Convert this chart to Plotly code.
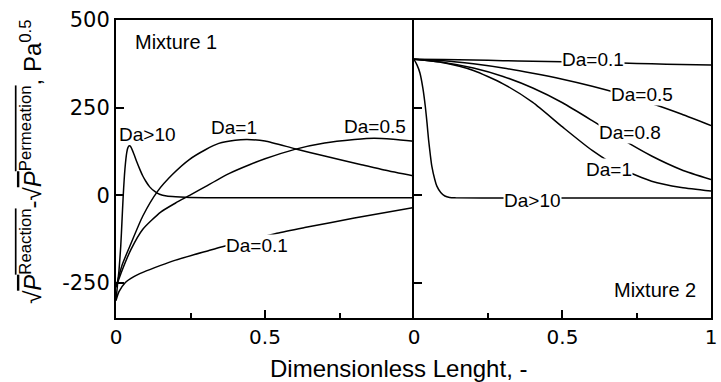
import plotly.graph_objects as go

# ---- Mixture 1: profiles along the dimensionless length ----
m1_x_da10 = [0, 0.005, 0.01, 0.016, 0.02, 0.024, 0.03, 0.036, 0.04, 0.045, 0.05, 0.06,
             0.07, 0.08, 0.09, 0.1, 0.113, 0.13, 0.146, 0.17, 0.2, 0.3, 0.5, 1.0]
m1_y_da10 = [-300, -255, -215, -144, -75, -5, 75, 122, 136, 141, 138, 118,
             95, 74, 55, 40, 24, 11, 3, -2, -4, -7, -7, -7]

m1_x_da1 = [0, 0.02, 0.047, 0.09, 0.14, 0.19, 0.246, 0.3, 0.345, 0.4, 0.44, 0.5,
            0.6, 0.7, 0.82, 0.9, 1.0]
m1_y_da1 = [-262, -200, -144, -59, 12, 60, 102, 130, 148, 157, 159, 155,
            133, 112, 88, 72, 55]

m1_x_da05 = [0, 0.02, 0.05, 0.09, 0.15, 0.2, 0.25, 0.3, 0.379, 0.45, 0.5, 0.6,
             0.7, 0.8, 0.866, 0.93, 1.0]
m1_y_da05 = [-262, -215, -155, -97, -48, -22, 1, 25, 62, 88, 104, 131,
             149, 159, 163, 160, 154]

m1_x_da01 = [0, 0.01, 0.03, 0.06, 0.09, 0.15, 0.2, 0.31, 0.36, 0.45, 0.54, 0.633, 0.8, 1.0]
m1_y_da01 = [-300, -275, -250, -232, -220, -200, -185, -158, -146, -127, -108, -92, -65, -35]

# ---- Mixture 2 ----
m2_x = [0, 0.1, 0.2, 0.3, 0.4, 0.5, 0.6, 0.7, 0.8, 0.9, 1.0]
m2_y_da01 = [388, 387, 386, 384, 382, 381, 379, 377, 375, 373, 372]
m2_y_da05 = [388, 384, 375, 363, 348, 331, 311, 288, 262, 232, 199]
m2_y_da08 = [388, 379, 363, 339, 306, 264, 213, 160, 112, 73, 45]
m2_y_da1 = [388, 378, 356, 318, 265, 195, 128, 75, 40, 22, 12]

m2_x_da10 = [0, 0.01, 0.02, 0.03, 0.038, 0.044, 0.049, 0.055, 0.06, 0.07, 0.077,
             0.09, 0.104, 0.12, 0.14, 0.3, 1.0]
m2_y_da10 = [388, 372, 349, 305, 254, 205, 159, 115, 83, 45, 26,
             8, -2, -6, -7, -8, -8]

y_ticks = [-250, 0, 250, 500]
y_tick_text = ["-250", "0", "250", "500"]
left_x_ticks = [0, 0.5]
left_x_text = ["0", "0.5"]
right_x_ticks = [0, 0.5, 1]
right_x_text = ["0", "0.5", "1"]

# curve labels: (text, x, y, panel, sits on the line)
curve_labels = [
    ("Da>10", 0.105, 173, 1, False),
    ("Da=1", 0.395, 193, 1, False),
    ("Da=0.5", 0.87, 196, 1, False),
    ("Da=0.1", 0.472, -144, 1, True),
    ("Da=0.1", 0.603, 386, 2, True),
    ("Da=0.5", 0.768, 288, 2, True),
    ("Da=0.8", 0.727, 178, 2, True),
    ("Da=1", 0.655, 74, 2, True),
    ("Da>10", 0.398, -14, 2, True),
]

LINE = dict(color="black", width=1.5, shape="spline", smoothing=0.6)
fig = go.Figure()

for xs, ys in [(m1_x_da10, m1_y_da10), (m1_x_da1, m1_y_da1),
               (m1_x_da05, m1_y_da05), (m1_x_da01, m1_y_da01)]:
    fig.add_trace(go.Scatter(x=xs, y=ys, mode="lines", line=LINE,
                             xaxis="x", yaxis="y", showlegend=False))

for xs, ys in [(m2_x, m2_y_da01), (m2_x, m2_y_da05), (m2_x, m2_y_da08),
               (m2_x, m2_y_da1), (m2_x_da10, m2_y_da10)]:
    fig.add_trace(go.Scatter(x=xs, y=ys, mode="lines", line=LINE,
                             xaxis="x2", yaxis="y2", showlegend=False))

split = 301 / 601
tick_font = dict(family="DejaVu Sans", size=20, color="black")
common_x = dict(range=[0, 1], showline=True, linecolor="black", linewidth=2,
                mirror=True, ticks="inside", ticklen=8, tickwidth=2,
                tickcolor="black", showgrid=False, ticklabeloverflow="allow",
                zeroline=False, tickfont=tick_font,
                minor=dict(ticks="inside", tickvals=[0.25, 0.75], ticklen=5,
                           tickwidth=1.5, tickcolor="black", showgrid=False))
common_y = dict(range=[-350, 500], showline=True, linecolor="black", linewidth=2,
                ticks="inside", ticklen=8, tickwidth=2,
                tickcolor="black", tickvals=y_ticks, ticktext=y_tick_text,
                showgrid=False, zeroline=False,
                tickfont=dict(family="DejaVu Sans", size=21, color="black"))

ann_font = dict(family="Liberation Sans, Arial", size=19, color="black")
annotations = []
for text, x, y, panel, on_line in curve_labels:
    a = dict(text=text, x=x, y=y, xref="x" if panel == 1 else "x2",
             yref="y" if panel == 1 else "y2", showarrow=False, font=ann_font,
             borderpad=0)
    if on_line:
        a["bgcolor"] = "white"
    annotations.append(a)

annotations.append(dict(text="Mixture 1", x=0.056, y=437, xref="x", yref="y",
                        xanchor="left", showarrow=False,
                        font=dict(family="Liberation Sans, Arial", size=20, color="black")))
annotations.append(dict(text="Mixture 2", x=0.81, y=-270, xref="x2", yref="y2",
                        showarrow=False,
                        font=dict(family="Liberation Sans, Arial", size=20, color="black")))

# shared x-axis title under both panels
annotations.append(dict(
    text="Dimensionless Lenght, -", x=(401 - 116) / 601, y=-0.17,
    xref="paper", yref="paper", showarrow=False, xanchor="center", yanchor="middle",
    font=dict(family="Liberation Sans, Arial", size=24, color="black")))

over = "text-decoration:overline"
y_title = (f"√<span style='{over}'><i>P</i><sup>Reaction</sup></span>-"
           f"√<span style='{over}'><i>P</i><sup>Permeation</sup></span>, Pa<sup>0.5</sup>")
annotations.append(dict(
    text=y_title, x=(30 - 116) / 601, y=(318 - 162) / 298, xref="paper", yref="paper",
    showarrow=False, textangle=-90, xanchor="center", yanchor="middle",
    font=dict(family="Liberation Sans, Arial", size=24, color="black")))

fig.update_layout(
    width=721, height=382,
    margin=dict(l=116, r=4, t=20, b=64),
    paper_bgcolor="white", plot_bgcolor="white",
    xaxis=dict(domain=[0, split], anchor="y", tickvals=left_x_ticks,
               ticktext=left_x_text, **common_x),
    xaxis2=dict(domain=[split, 1], anchor="y2", tickvals=right_x_ticks,
                ticktext=right_x_text, **common_x),
    yaxis=dict(domain=[0, 1], anchor="x", mirror=False, **common_y),
    yaxis2=dict(domain=[0, 1], anchor="x2", matches="y", mirror=True,
                showticklabels=False, **common_y),
    annotations=annotations,
)

fig.write_html("out.html")
